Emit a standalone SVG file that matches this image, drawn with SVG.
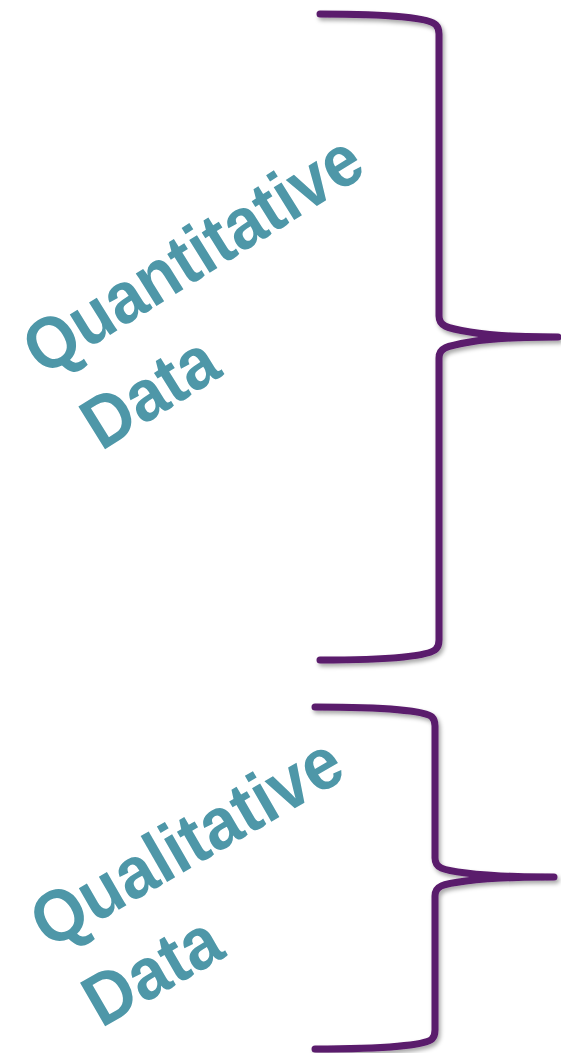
<svg xmlns="http://www.w3.org/2000/svg" width="561" height="1053" viewBox="0 0 561 1053">
<defs>
<filter id="sh" x="-10%" y="-10%" width="130%" height="130%">
<feDropShadow dx="2" dy="3" stdDeviation="2" flood-color="#000" flood-opacity="0.35"/>
</filter>
<style>
.brace{fill:none;stroke:#5A1A6C;stroke-width:7;stroke-linecap:round;stroke-linejoin:round;filter:url(#sh)}
.lbl{font-family:"Liberation Sans",Arial,sans-serif;font-weight:bold;font-size:73px;fill:#4E97A8}
</style>
</defs>
<rect width="561" height="1053" fill="#fff"/>
<g id="connectors">
<path class="brace" d="M320,14 C390,14 430,18 436,25 Q439,28 439,34 L439,316 C439,326 446,328 470,332 C492,336 515,337 558,337 C515,337 492,338 470,342 C446,346 439,348 439,358 L439,640 Q439,646 436,649 C430,656 390,660 320,660"/>
<path class="brace" d="M315,707 C385,707 426,711 432,717 Q435,720 435,726 L435,858 C435,868 442,870 466,873 C488,876 511,877 554,877 C511,877 488,878 466,881 C442,884 435,886 435,896 L435,1030 Q435,1036 432,1039 C426,1045 385,1049 315,1049"/>
</g>
<g id="quantitative" transform="translate(43,377) rotate(-32)">
<text class="lbl" x="0" y="0" textLength="384" lengthAdjust="spacingAndGlyphs">Quantitative</text>
<text class="lbl" x="10" y="94" textLength="145" lengthAdjust="spacingAndGlyphs">Data</text>
</g>
<g id="qualitative" transform="translate(49,950) rotate(-30)">
<text class="lbl" x="0" y="0" textLength="346" lengthAdjust="spacingAndGlyphs">Qualitative</text>
<text class="lbl" x="6" y="94" textLength="146" lengthAdjust="spacingAndGlyphs">Data</text>
</g>
</svg>
